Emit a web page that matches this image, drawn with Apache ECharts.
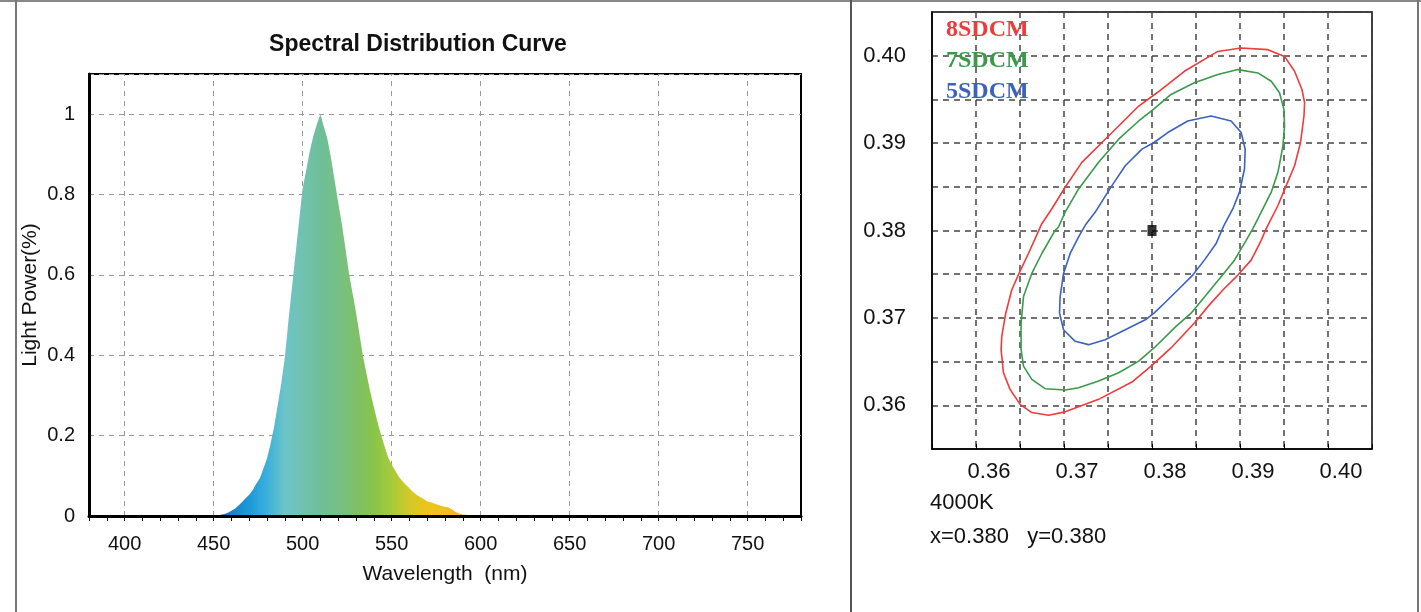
<!DOCTYPE html>
<html><head><meta charset="utf-8">
<script src="https://cdn.jsdelivr.net/npm/echarts@6/dist/echarts.min.js"></script>
<style>html,body{margin:0;padding:0;background:#fff}#c{width:1421px;height:612px}</style>
</head><body><div id="c"></div><script>
// ---- Spectral distribution data (wavelength nm, relative power) ----
const wavelengths = [380,390,400,410,420,430,440,446,
  450,452,454,456,458,460,462,464,466,468,470,472,474,476,478,480,482,484,486,488,490,492,494,496,498,
  500,502,504,506,508,510,512,514,516,518,520,522,524,526,528,530,532,534,536,538,540,542,544,546,548,
  550,552,554,556,558,560,562,564,566,568,570,572,574,576,578,580,582,584,586,588,590,592,594,596,598,600,
  610,620,630,640,650,660,670,680,690,700,710,720,730,740,750,760,770,780];
const lightPower = [0,0,0,0,0,0,0,0,
  0.001,0.002,0.003,0.005,0.008,0.013,0.018,0.026,0.035,0.044,0.053,0.065,0.080,0.094,0.118,0.143,0.180,0.222,0.275,0.330,0.394,0.484,0.568,0.650,0.733,
  0.815,0.860,0.907,0.945,0.975,1.0,0.968,0.937,0.890,0.835,0.780,0.728,0.668,0.605,0.556,0.507,0.451,0.396,0.352,0.309,0.272,0.235,0.203,0.174,0.146,
  0.128,0.113,0.098,0.087,0.078,0.069,0.060,0.053,0.047,0.042,0.037,0.034,0.031,0.028,0.025,0.023,0.021,0.016,0.010,0.006,0.004,0.003,0.001,0.001,0.0005,0,
  0,0,0,0,0,0,0,0,0,0,0,0,0,0,0,0,0,0];
const wavelengthGridLines = [400,450,500,550,600,650,700,750];

// ---- MacAdam ellipses (CIE x, y) ----
const sdcm8 = [[0.36748,0.38078],[0.36862,0.38249],[0.37013,0.38495],[0.37203,0.38780],[0.37431,0.39007],[0.37621,0.39196],
  [0.37849,0.39424],[0.38057,0.39576],[0.38368,0.39822],[0.38748,0.40049],[0.39013,0.40088],[0.39317,0.40069],[0.39506,0.39992],
  [0.39620,0.39822],[0.39704,0.39614],[0.39734,0.39462],[0.39727,0.39310],[0.39688,0.39007],[0.39620,0.38741],[0.39525,0.38514],
  [0.39431,0.38286],[0.39298,0.38021],[0.39241,0.37888],[0.39127,0.37661],[0.38976,0.37490],[0.38805,0.37319],[0.38652,0.37149],
  [0.38482,0.36941],[0.38216,0.36656],[0.37989,0.36448],[0.37772,0.36266],[0.37393,0.36068],[0.37013,0.35925],[0.36824,0.35886],
  [0.36634,0.35917],[0.36501,0.36011],[0.36387,0.36182],[0.36312,0.36372],[0.36285,0.36637],[0.36293,0.36789],[0.36338,0.37054],
  [0.36406,0.37319],[0.36489,0.37509],[0.36596,0.37737]];
const sdcm7 = [[0.36938,0.38040],[0.37013,0.38211],[0.37166,0.38476],[0.37393,0.38780],[0.37621,0.39045],[0.37849,0.39253],
  [0.38023,0.39392],[0.38216,0.39557],[0.38482,0.39690],[0.38748,0.39784],[0.38976,0.39841],[0.39203,0.39803],[0.39355,0.39708],
  [0.39449,0.39576],[0.39499,0.39386],[0.39506,0.39196],[0.39488,0.38969],[0.39431,0.38666],[0.39355,0.38439],[0.39241,0.38211],
  [0.39146,0.38021],[0.39070,0.37888],[0.38937,0.37661],[0.38785,0.37472],[0.38615,0.37262],[0.38444,0.37054],[0.38273,0.36903],
  [0.38023,0.36656],[0.37849,0.36505],[0.37621,0.36372],[0.37393,0.36278],[0.37166,0.36201],[0.37013,0.36175],[0.36785,0.36190],
  [0.36634,0.36296],[0.36540,0.36448],[0.36512,0.36637],[0.36512,0.36941],[0.36540,0.37244],[0.36634,0.37509],[0.36748,0.37737],
  [0.36899,0.38002]];
const sdcm5 = [[0.37241,0.38059],[0.37355,0.38211],[0.37545,0.38514],[0.37696,0.38741],[0.37886,0.38931],[0.38023,0.39007],
  [0.38179,0.39121],[0.38406,0.39253],[0.38672,0.39310],[0.38899,0.39253],[0.39013,0.39121],[0.39059,0.38931],[0.39051,0.38704],
  [0.38994,0.38439],[0.38919,0.38249],[0.38814,0.38050],[0.38729,0.37851],[0.38595,0.37661],[0.38463,0.37490],[0.38293,0.37319],
  [0.38140,0.37168],[0.38023,0.37054],[0.37924,0.36978],[0.37696,0.36864],[0.37468,0.36751],[0.37279,0.36694],[0.37127,0.36732],
  [0.36995,0.36864],[0.36949,0.37054],[0.36956,0.37244],[0.36995,0.37509],[0.37070,0.37737],[0.37166,0.37927]];
const centrePoint = [[0.380, 0.380]];
const sdcmNames = ['8SDCM','7SDCM','5SDCM'];

const SANS = "'Liberation Sans', Arial, sans-serif";
const SERIF = "'Liberation Serif', 'Times New Roman', serif";
const spectrum = wavelengths.map((w, i) => [w, lightPower[i]]);
const close = a => a.concat([a[0]]);
const colors = {r:'#ee3b3b', g:'#3a9a4a', b:'#3b62c2'};

const chart = echarts.init(document.getElementById('c'), null, {renderer:'canvas'});
const option = {
  animation: false,
  backgroundColor: '#fff',
  grid: [
    {left:89, top:74, width:712, height:442, show:true, borderColor:'#000', borderWidth:2},
    {left:932, top:12, width:440, height:437, show:true, borderColor:'#000', borderWidth:1.5}
  ],
  xAxis: [
    {gridIndex:0, type:'value', min:380, max:780, interval:10, z:3,
     axisLine:{show:true, onZero:false, lineStyle:{color:'#000', width:3}},
     axisTick:{show:true, length:5, lineStyle:{color:'#000', width:1}},
     axisLabel:{formatter:v => (Math.round(v) % 50 === 0 ? String(Math.round(v)) : ''), fontFamily:SANS, fontSize:20, color:'#111', margin:18},
     splitLine:{show:false},
     name:'Wavelength  (nm)', nameLocation:'middle', nameGap:48, nameMoveOverlap:false,
     nameTextStyle:{fontFamily:SANS, fontSize:21, color:'#111'}},
    {gridIndex:1, type:'value', min:0.355, max:0.405, interval:0.005,
     axisLine:{show:true, onZero:false, lineStyle:{color:'#000', width:1.5}},
     axisTick:{show:true, inside:true, length:5, lineStyle:{color:'#000', width:1}},
     axisLabel:{formatter:v => { const k = Math.round(v*1000); return k % 10 === 0 ? (k/1000).toFixed(2) : ''; },
       fontFamily:SANS, fontSize:22, color:'#111', margin:12, padding:[0,0,0,26]},
     splitLine:{show:true, lineStyle:{color:'#444', type:[6,5], width:1.5}}}
  ],
  yAxis: [
    {gridIndex:0, type:'value', min:0, max:1.1, interval:0.2,
     axisLine:{show:true, onZero:false, lineStyle:{color:'#000', width:3}},
     axisTick:{show:false},
     axisLabel:{formatter:v => { const k = Math.round(v*10); return (Math.abs(v*10-k) < 1e-6 && k % 2 === 0) ? String(k/10) : ''; },
       fontFamily:SANS, fontSize:20, color:'#111', margin:14},
     splitLine:{show:true, lineStyle:{color:'#999', type:[5,5], width:1}},
     name:'Light Power(%)', nameLocation:'middle', nameGap:48, nameMoveOverlap:false,
     nameTextStyle:{fontFamily:SANS, fontSize:21, color:'#111'}},
    {gridIndex:1, type:'value', min:0.355, max:0.405, interval:0.005,
     axisLine:{show:true, onZero:false, lineStyle:{color:'#000', width:1.5}},
     axisTick:{show:false},
     axisLabel:{formatter:v => { const k = Math.round(v*1000); return k % 10 === 0 ? (k/1000).toFixed(2) : ''; },
       fontFamily:SANS, fontSize:22, color:'#111', margin:26},
     splitLine:{show:true, lineStyle:{color:'#444', type:[6,5], width:1.5}}}
  ],
  visualMap: {
    show:false, type:'continuous', seriesIndex:0, dimension:0, min:450, max:600,
    inRange:{color:['#2a5fc0','#1a80cc','#1c9ad8','#3ab0dc','#6cc4c8','#70c2b0','#6ebf98','#76c084',
                    '#7ec06a','#88c448','#a6cb3a','#d2c828','#ecc41c','#f0c020','#f0b030','#e89c40']},
    outOfRange:{color:['#2a5fc0']}
  },
  legend: {
    orient:'vertical', left:936, top:13, itemWidth:0, itemHeight:24, itemGap:7, icon:'none',
    selectedMode:false,
    textStyle:{fontFamily:SERIF, fontSize:24, fontWeight:'bold'},
    data:[
      {name:sdcmNames[0], textStyle:{color:colors.r}},
      {name:sdcmNames[1], textStyle:{color:colors.g}},
      {name:sdcmNames[2], textStyle:{color:colors.b}}
    ]
  },
  series: [
    {type:'line', name:'Spectrum', xAxisIndex:0, yAxisIndex:0, data:spectrum, symbol:'none', showSymbol:false,
     z:2, lineStyle:{width:0}, areaStyle:{opacity:1},
     markLine:{silent:true, z:1, symbol:['none','none'], label:{show:false},
       lineStyle:{color:'#999', type:[5,5], width:1}, emphasis:{disabled:true},
       data: wavelengthGridLines.map(v => ({xAxis:v}))}},
    {type:'line', name:sdcmNames[0], xAxisIndex:1, yAxisIndex:1, data:close(sdcm8), symbol:'none', color:colors.r, lineStyle:{width:1.6}},
    {type:'line', name:sdcmNames[1], xAxisIndex:1, yAxisIndex:1, data:close(sdcm7), symbol:'none', color:colors.g, lineStyle:{width:1.6}},
    {type:'line', name:sdcmNames[2], xAxisIndex:1, yAxisIndex:1, data:close(sdcm5), symbol:'none', color:colors.b, lineStyle:{width:1.6}},
    {type:'scatter', name:'4000K', xAxisIndex:1, yAxisIndex:1, data:centrePoint, symbol:'rect', symbolSize:[9,11], itemStyle:{color:'#000'}, z:5}
  ],
  graphic: [
    {type:'line', shape:{x1:0, y1:1, x2:1421, y2:1}, style:{stroke:'#888', lineWidth:2}, silent:true},
    {type:'line', shape:{x1:16, y1:0, x2:16, y2:612}, style:{stroke:'#777', lineWidth:2}, silent:true},
    {type:'line', shape:{x1:851, y1:0, x2:851, y2:612}, style:{stroke:'#555', lineWidth:2}, silent:true},
    {type:'line', shape:{x1:1418, y1:0, x2:1418, y2:612}, style:{stroke:'#777', lineWidth:2}, silent:true},
    {type:'text', x:418, y:45, style:{text:'Spectral Distribution Curve', font:"bold 23px 'Liberation Sans', Arial, sans-serif", fill:'#111', align:'center', verticalAlign:'middle'}},
    {type:'text', x:930, y:503, style:{text:'4000K', font:"22px 'Liberation Sans', Arial, sans-serif", fill:'#111', align:'left', verticalAlign:'middle'}},
    {type:'text', x:930, y:537, style:{text:'x=0.380   y=0.380', font:"22px 'Liberation Sans', Arial, sans-serif", fill:'#111', align:'left', verticalAlign:'middle'}}
  ]
};
chart.setOption(option);
</script></body></html>
